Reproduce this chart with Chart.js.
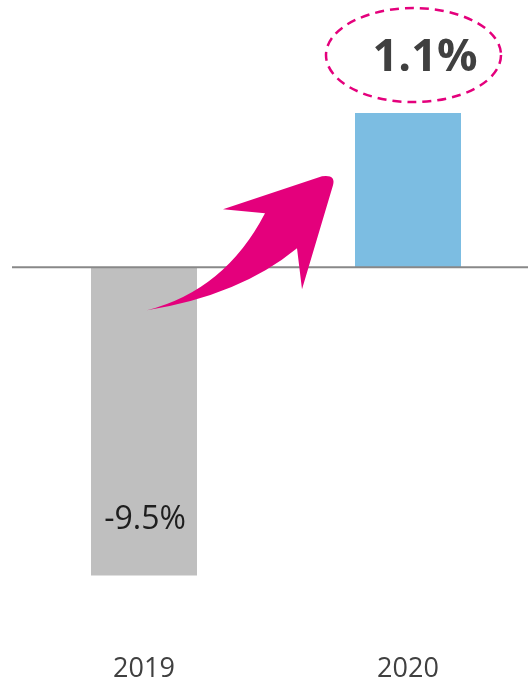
<!DOCTYPE html>
<html>
<head>
<meta charset="utf-8">
<script src="https://cdn.jsdelivr.net/npm/chart.js@4/dist/chart.umd.min.js"></script>
<style>
	html, body { margin: 0; padding: 0; background: #fff; overflow: hidden; }
	#growth { display: block; }
</style>
</head>
<body>
<canvas id="growth" width="540" height="681"></canvas>
<script>
// categories and values
var years = ['2019', '2020'];
var growth = [-9.5, 1.1];
var labels = ['-9.5%', '1.1%'];
// bar lengths as drawn in the picture (the 2020 bar is not to scale)
var barHeights = [-9.5, 4.75];
var barColors = ['#BFBFBF', '#7CBDE2'];

var pink = '#E4007C';

// zero line, arrow, ellipse and value labels
var extras = {
	id: 'extras',
	afterDatasetsDraw: function(chart) {
		var ctx = chart.ctx;
		var x = chart.scales.x;
		var y = chart.scales.y;
		var area = chart.chartArea;
		var z = y.getPixelForValue(0);
		var c0 = x.getPixelForValue(0);
		var c1 = x.getPixelForValue(1);

		ctx.save();
		ctx.strokeStyle = '#888888';
		ctx.lineWidth = 2;
		ctx.beginPath();
		ctx.moveTo(area.left, z);
		ctx.lineTo(chart.width, z);
		ctx.stroke();

		// curved arrow
		ctx.fillStyle = pink;
		ctx.beginPath();
		ctx.moveTo(c0 + 3, z + 43);
		ctx.quadraticCurveTo(c0 + 81, z + 23, c0 + 121, z - 54);
		ctx.lineTo(c0 + 79, z - 58);
		ctx.lineTo(c0 + 178, z - 91);
		ctx.quadraticCurveTo(c0 + 192, z - 93, c0 + 189, z - 82);
		ctx.lineTo(c0 + 158, z + 22);
		ctx.lineTo(c0 + 153, z - 19);
		ctx.quadraticCurveTo(c0 + 96, z + 28, c0 + 3, z + 43);
		ctx.closePath();
		ctx.fill();

		// value labels
		var bottom0 = y.getPixelForValue(barHeights[0]);
		ctx.fillStyle = '#1E1E1E';
		ctx.font = '32px "Open Sans"';
		ctx.textAlign = 'center';
		ctx.textBaseline = 'middle';
		ctx.fillText(labels[0], c0 + 1, bottom0 - 56);

		var top1 = y.getPixelForValue(barHeights[1]);
		ctx.fillStyle = '#404040';
		ctx.font = 'bold 45px "Open Sans"';
		ctx.fillText(labels[1], c1 + 17, top1 - 55);

		// dashed ellipse round the 2020 value
		ctx.strokeStyle = pink;
		ctx.lineWidth = 2.5;
		ctx.setLineDash([9, 6]);
		ctx.beginPath();
		ctx.ellipse(c1 + 5.5, top1 - 58, 87.5, 47, 0, 0, Math.PI * 2);
		ctx.stroke();
		ctx.restore();
	}
};

var ctx = document.getElementById('growth');

var chart = new Chart(ctx, {
	type: 'bar',
	data: {
		labels: years,
		datasets: [
			{
				label: 'Growth',
				data: barHeights,
				backgroundColor: barColors,
				borderWidth: 0,
				barPercentage: 0.4015,
				categoryPercentage: 1
			}
		]
	},
	options: {
		responsive: false,
		animation: false,
		devicePixelRatio: 1,
		layout: { padding: { left: 12, right: 0, top: 0, bottom: -15 } },
		plugins: {
			legend: { display: false },
			tooltip: { enabled: false }
		},
		scales: {
			x: {
				grid: { display: false },
				border: { display: false },
				ticks: {
					color: '#404040',
					font: { family: '"Open Sans"', size: 27 },
					padding: 10
				}
			},
			y: {
				display: false,
				min: -11.35,
				max: 8.235
			}
		}
	},
	plugins: [extras]
});
</script>
</body>
</html>
